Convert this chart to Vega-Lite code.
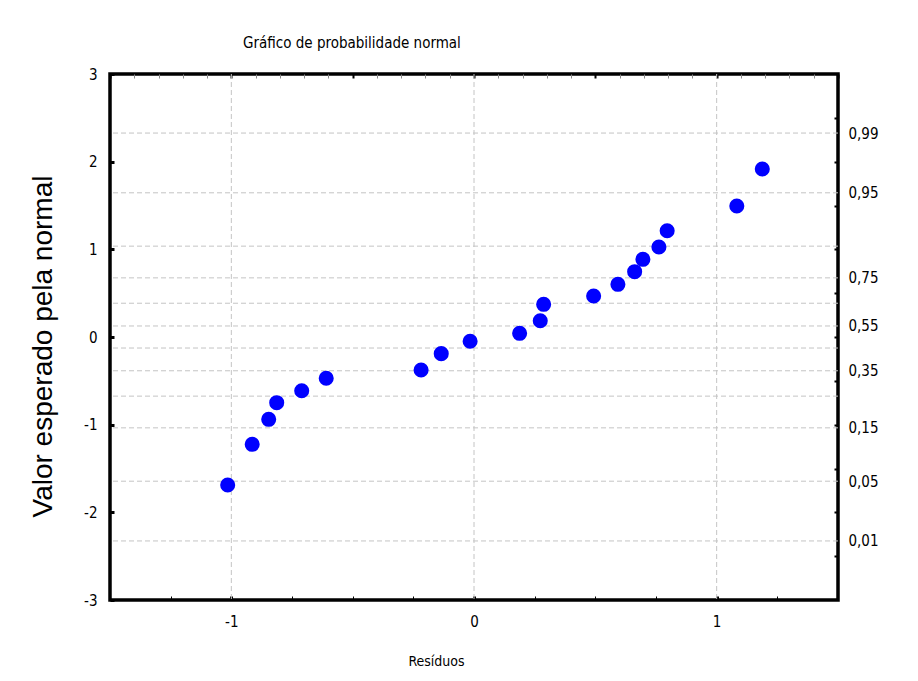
{
  "$schema": "https://vega.github.io/schema/vega-lite/v6.json",
  "width": 728,
  "height": 526,
  "autosize": {"type": "none"},
  "padding": {"left": 110, "top": 74, "right": 80, "bottom": 81},
  "background": "white",
  "title": {
    "text": "Gráfico de probabilidade normal",
    "frame": "group",
    "anchor": "start",
    "dx": 133,
    "offset": 4,
    "baseline": "alphabetic",
    "font": "Liberation Sans Narrow, Arial Narrow, DejaVu Sans Condensed, sans-serif",
    "fontSize": 15,
    "fontWeight": "normal",
    "color": "black"
  },
  "datasets": {
    "probGrid": [
      {"p": 0.01, "z": -2.3263},
      {"p": 0.05, "z": -1.6449},
      {"p": 0.15, "z": -1.0364},
      {"p": 0.25, "z": -0.6745},
      {"p": 0.35, "z": -0.3853},
      {"p": 0.45, "z": -0.1257},
      {"p": 0.55, "z": 0.1257},
      {"p": 0.65, "z": 0.3853},
      {"p": 0.75, "z": 0.6745},
      {"p": 0.85, "z": 1.0364},
      {"p": 0.95, "z": 1.6449},
      {"p": 0.99, "z": 2.3263}
    ],
    "residGrid": [{"r": -1}, {"r": 0}, {"r": 1}],
    "residuos": [
      {"residuo": -1.015, "esperado": -1.688},
      {"residuo": -0.914, "esperado": -1.224},
      {"residuo": -0.846, "esperado": -0.939},
      {"residuo": -0.813, "esperado": -0.749},
      {"residuo": -0.710, "esperado": -0.613},
      {"residuo": -0.609, "esperado": -0.471},
      {"residuo": -0.218, "esperado": -0.376},
      {"residuo": -0.135, "esperado": -0.190},
      {"residuo": -0.016, "esperado": -0.049},
      {"residuo": 0.188, "esperado": 0.042},
      {"residuo": 0.273, "esperado": 0.185},
      {"residuo": 0.287, "esperado": 0.373},
      {"residuo": 0.493, "esperado": 0.468},
      {"residuo": 0.593, "esperado": 0.601},
      {"residuo": 0.662, "esperado": 0.745},
      {"residuo": 0.696, "esperado": 0.886},
      {"residuo": 0.762, "esperado": 1.027},
      {"residuo": 0.796, "esperado": 1.212},
      {"residuo": 1.083, "esperado": 1.494},
      {"residuo": 1.188, "esperado": 1.916}
    ]
  },
  "layer": [
    {
      "data": {"name": "probGrid"},
      "mark": {"type": "rule", "color": "#C4C4C4", "strokeDash": [5, 3], "strokeWidth": 1},
      "encoding": {
        "y": {
          "field": "z",
          "type": "quantitative",
          "scale": {"domain": [-3, 3], "nice": false, "zero": false},
          "axis": {
            "orient": "right",
            "title": null,
            "values": [-2.5, -2.3263, -2, -1.6449, -1.5, -1.0364, -1, -0.5, -0.3853, 0, 0.1257, 0.5, 0.6745, 1, 1.5, 1.6449, 2, 2.3263, 2.5],
            "labelExpr": "abs(datum.value - 2.3263) < 0.001 ? '0,99' : abs(datum.value - 1.6449) < 0.001 ? '0,95' : abs(datum.value - 0.6745) < 0.001 ? '0,75' : abs(datum.value - 0.1257) < 0.001 ? '0,55' : abs(datum.value + 0.3853) < 0.001 ? '0,35' : abs(datum.value + 1.0364) < 0.001 ? '0,15' : abs(datum.value + 1.6449) < 0.001 ? '0,05' : abs(datum.value + 2.3263) < 0.001 ? '0,01' : ''",
            "tickSize": -4,
            "tickWidth": 2,
            "tickOpacity": {"condition": {"test": "abs(datum.value * 2 - round(datum.value * 2)) < 0.001", "value": 1}, "value": 0},
            "labelPadding": 14,
            "labelAlign": "left"
          }
        }
      }
    },
    {
      "data": {"name": "residGrid"},
      "mark": {"type": "rule", "color": "#C4C4C4", "strokeDash": [5, 3], "strokeWidth": 1},
      "encoding": {
        "x": {
          "field": "r",
          "type": "quantitative",
          "scale": {"domain": [-1.5, 1.5], "nice": false, "zero": false},
          "axis": {
            "orient": "top",
            "title": null,
            "labels": false,
            "values": [-1.5, -1.4, -1.3, -1.2, -1.1, -1, -0.9, -0.8, -0.7, -0.6, -0.5, -0.4, -0.3, -0.2, -0.1, 0, 0.1, 0.2, 0.3, 0.4, 0.5, 0.6, 0.7, 0.8, 0.9, 1, 1.1, 1.2, 1.3, 1.4, 1.5],
            "tickSize": -4,
            "tickWidth": {"condition": {"test": "abs(datum.value * 2 - round(datum.value * 2)) < 0.001", "value": 2}, "value": 1},
            "tickColor": {"condition": {"test": "abs(datum.value * 2 - round(datum.value * 2)) < 0.001", "value": "black"}, "value": "#8A8A8A"}
          }
        }
      }
    },
    {
      "data": {"name": "residuos"},
      "mark": {"type": "point", "filled": true, "color": "#0000FF", "opacity": 1, "size": 227},
      "encoding": {
        "x": {
          "field": "residuo",
          "type": "quantitative",
          "scale": {"domain": [-1.5, 1.5], "nice": false, "zero": false},
          "axis": {
            "orient": "bottom",
            "title": "Resíduos",
            "titleFont": "Liberation Sans Narrow, Arial Narrow, DejaVu Sans Condensed, sans-serif",
            "titleFontSize": 14,
            "titleX": 326,
            "titleY": 65,
            "titleBaseline": "alphabetic",
            "values": [-1.5, -1.25, -1, -0.75, -0.5, -0.25, 0, 0.25, 0.5, 0.75, 1, 1.25, 1.5],
            "labelExpr": "abs(datum.value - round(datum.value)) < 0.001 ? toString(datum.value) : ''",
            "tickSize": -4,
            "tickWidth": {"condition": {"test": "abs(datum.value - round(datum.value)) < 0.001", "value": 3}, "value": 1},
            "labelPadding": 18
          }
        },
        "y": {
          "field": "esperado",
          "type": "quantitative",
          "scale": {"domain": [-3, 3], "nice": false, "zero": false},
          "axis": {
            "orient": "left",
            "title": "Valor esperado pela normal",
            "titleFont": "Liberation Sans, Arial, sans-serif",
            "titleFontSize": 28,
            "titleX": -53,
            "titleY": 272,
            "titleBaseline": "bottom",
            "values": [-3, -2, -1, 0, 1, 2, 3],
            "labelExpr": "toString(datum.value)",
            "tickSize": -4,
            "tickWidth": 3,
            "labelPadding": 17
          }
        }
      }
    }
  ],
  "resolve": {"axis": {"x": "independent", "y": "independent"}},
  "config": {
    "view": {"stroke": "black", "strokeWidth": 3.5},
    "axis": {
      "domain": false,
      "grid": false,
      "labelFont": "Liberation Sans Narrow, Arial Narrow, DejaVu Sans Condensed, sans-serif",
      "labelFontSize": 15,
      "labelColor": "black",
      "labelOverlap": false,
      "labelFlush": false,
      "labelBound": false,
      "tickColor": "black",
      "titleColor": "black",
      "titleFontWeight": "normal"
    }
  }
}
